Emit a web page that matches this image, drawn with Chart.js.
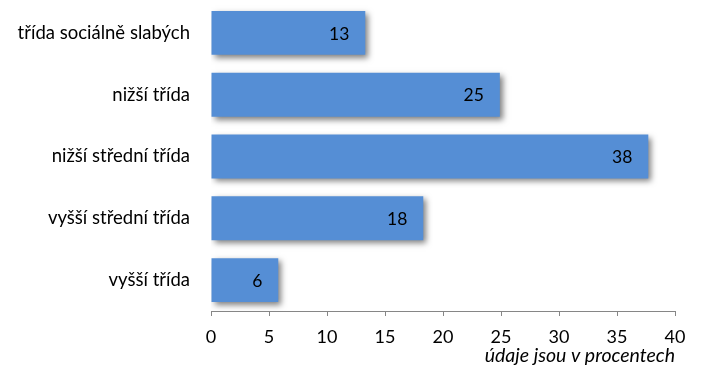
<!DOCTYPE html>
<html>
<head>
<meta charset="utf-8">
<script src="https://cdn.jsdelivr.net/npm/chart.js@4"></script>
<style>
html,body{margin:0;padding:0;background:#fff;}
#wrap{width:701px;height:367px;position:relative;}
</style>
</head>
<body>
<div id="wrap"><canvas id="c" width="701" height="367"></canvas></div>
<script>
const categories = ["třída sociálně slabých", "nižší třída", "nižší střední třída", "vyšší střední třída", "vyšší třída"];
const values = [13.3, 24.9, 37.7, 18.3, 5.8];
const valueLabels = ["13", "25", "38", "18", "6"];
const xTicks = [0, 5, 10, 15, 20, 25, 30, 35, 40];
const axisTitle = "údaje jsou v procentech";

const FONT = "Lato, 'Open Sans', sans-serif";

const shadowPlugin = {
  id: 'barShadow',
  beforeDatasetsDraw(chart) {
    const ctx = chart.ctx;
    ctx.save();
    ctx.shadowColor = 'rgba(0,0,0,0.5)';
    ctx.shadowBlur = 6;
    ctx.shadowOffsetX = 3;
    ctx.shadowOffsetY = 3;
  },
  afterDatasetsDraw(chart) {
    chart.ctx.restore();
  }
};

const labelPlugin = {
  id: 'valueLabels',
  afterDraw(chart) {
    const ctx = chart.ctx;
    const meta = chart.getDatasetMeta(0);
    ctx.save();
    ctx.font = "17.5px " + FONT;
    ctx.fillStyle = '#000';
    ctx.textAlign = 'right';
    ctx.textBaseline = 'middle';
    meta.data.forEach((bar, i) => {
      ctx.fillText(valueLabels[i], bar.x - 16, bar.y + 1);
    });
    ctx.restore();
  }
};

new Chart(document.getElementById('c'), {
  type: 'bar',
  data: {
    labels: categories,
    datasets: [{
      data: values,
      backgroundColor: '#558ED5',
      borderWidth: 0,
      categoryPercentage: 1.0,
      barPercentage: 0.71
    }]
  },
  options: {
    indexAxis: 'y',
    responsive: false,
    animation: false,
    events: [],
    layout: { padding: { left: 0, right: 26, top: 2, bottom: 0 } },
    plugins: { legend: { display: false }, tooltip: { enabled: false } },
    scales: {
      x: {
        min: 0, max: 40,
        afterBuildTicks(scale) { scale.ticks = xTicks.map(v => ({ value: v })); },
        afterFit(scale) { scale.height = 56; scale.paddingLeft = 0; scale.paddingRight = 0; },
        grid: { drawOnChartArea: false, drawTicks: true, tickLength: 5, color: '#868686', lineWidth: 1 },
        border: { display: true, color: '#868686', width: 1 },
        ticks: { color: '#000', font: { family: FONT, size: 18 }, padding: 10, maxRotation: 0, autoSkip: false },
        title: { display: true, text: axisTitle, align: 'end', color: '#000', font: { family: FONT, size: 19.5, style: 'italic' }, padding: { top: 0, bottom: 0 } }
      },
      y: {
        afterFit(scale) { scale.width = 211; scale.paddingTop = 0; scale.paddingBottom = 0; },
        grid: { display: false, drawTicks: false },
        border: { display: false },
        ticks: { color: '#000', font: { family: FONT, size: 18.5 }, padding: 21 }
      }
    }
  },
  plugins: [shadowPlugin, labelPlugin]
});
</script>
</body>
</html>
